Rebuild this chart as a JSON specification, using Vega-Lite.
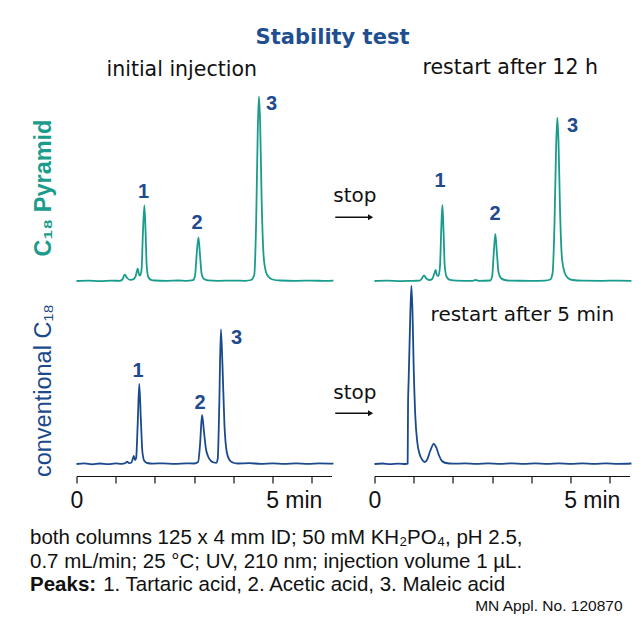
{
  "$schema": "https://vega.github.io/schema/vega-lite/v6.json",
  "background": "white",
  "padding": {"left": 29.5, "top": 26, "right": 5, "bottom": 2},
  "config": {"view": {"stroke": null}, "axis": {"grid": false}},
  "title": {"text": "Stability test", "anchor": "middle", "font": "DejaVu Sans", "fontSize": 21, "fontWeight": "bold", "color": "#1f4f90", "offset": -6.5, "baseline": "alphabetic"},
  "datasets": {
    "traces": [
      {"panel":"TL","t":0,"signal":0},{"panel":"TL","t":0.3,"signal":0.4},{"panel":"TL","t":0.6,"signal":-0.2},{"panel":"TL","t":0.9,"signal":0.3},{"panel":"TL","t":1.1,"signal":0.2},{"panel":"TL","t":1.17,"signal":1.5},{"panel":"TL","t":1.23,"signal":6.3},{"panel":"TL","t":1.29,"signal":3},{"panel":"TL","t":1.36,"signal":1.2},{"panel":"TL","t":1.42,"signal":1.3},{"panel":"TL","t":1.5,"signal":4},{"panel":"TL","t":1.54,"signal":10},{"panel":"TL","t":1.56,"signal":12.3},{"panel":"TL","t":1.59,"signal":7},{"panel":"TL","t":1.62,"signal":5.3},{"panel":"TL","t":1.66,"signal":12},{"panel":"TL","t":1.69,"signal":45},{"panel":"TL","t":1.73,"signal":75.7},{"panel":"TL","t":1.76,"signal":50},{"panel":"TL","t":1.79,"signal":15},{"panel":"TL","t":1.83,"signal":4},{"panel":"TL","t":1.9,"signal":1.2},{"panel":"TL","t":2.0,"signal":0.5},{"panel":"TL","t":2.3,"signal":0.2},{"panel":"TL","t":2.6,"signal":0.5},{"panel":"TL","t":2.8,"signal":0.1},{"panel":"TL","t":2.97,"signal":0.8},{"panel":"TL","t":3.02,"signal":5},{"panel":"TL","t":3.07,"signal":30},{"panel":"TL","t":3.11,"signal":43.7},{"panel":"TL","t":3.15,"signal":25},{"panel":"TL","t":3.19,"signal":7},{"panel":"TL","t":3.25,"signal":2},{"panel":"TL","t":3.35,"signal":0.6},{"panel":"TL","t":3.6,"signal":0.2},{"panel":"TL","t":4.0,"signal":0.4},{"panel":"TL","t":4.3,"signal":0.2},{"panel":"TL","t":4.45,"signal":1},{"panel":"TL","t":4.53,"signal":6},{"panel":"TL","t":4.58,"signal":60},{"panel":"TL","t":4.62,"signal":150},{"panel":"TL","t":4.65,"signal":184.7},{"panel":"TL","t":4.68,"signal":160},{"panel":"TL","t":4.72,"signal":80},{"panel":"TL","t":4.77,"signal":25},{"panel":"TL","t":4.83,"signal":9},{"panel":"TL","t":4.9,"signal":4},{"panel":"TL","t":5.0,"signal":1.5},{"panel":"TL","t":5.2,"signal":0.5},{"panel":"TL","t":5.6,"signal":0.2},{"panel":"TL","t":6.0,"signal":0.4},{"panel":"TL","t":6.3,"signal":0.1},{"panel":"TL","t":6.55,"signal":0.3},
      {"panel":"TR","t":0,"signal":0},{"panel":"TR","t":0.3,"signal":0.3},{"panel":"TR","t":0.7,"signal":-0.1},{"panel":"TR","t":1.0,"signal":0.2},{"panel":"TR","t":1.15,"signal":0.3},{"panel":"TR","t":1.2,"signal":2},{"panel":"TR","t":1.26,"signal":5.7},{"panel":"TR","t":1.32,"signal":2.5},{"panel":"TR","t":1.4,"signal":1},{"panel":"TR","t":1.47,"signal":2},{"panel":"TR","t":1.53,"signal":8},{"panel":"TR","t":1.56,"signal":11},{"panel":"TR","t":1.59,"signal":6},{"panel":"TR","t":1.63,"signal":5},{"panel":"TR","t":1.67,"signal":15},{"panel":"TR","t":1.7,"signal":50},{"panel":"TR","t":1.73,"signal":76},{"panel":"TR","t":1.76,"signal":50},{"panel":"TR","t":1.79,"signal":15},{"panel":"TR","t":1.84,"signal":4},{"panel":"TR","t":1.92,"signal":1.2},{"panel":"TR","t":2.1,"signal":0.4},{"panel":"TR","t":2.5,"signal":0.2},{"panel":"TR","t":2.58,"signal":1},{"panel":"TR","t":2.65,"signal":0.2},{"panel":"TR","t":2.95,"signal":0.5},{"panel":"TR","t":3.0,"signal":5},{"panel":"TR","t":3.04,"signal":28},{"panel":"TR","t":3.08,"signal":47},{"panel":"TR","t":3.12,"signal":28},{"panel":"TR","t":3.16,"signal":9},{"panel":"TR","t":3.22,"signal":3},{"panel":"TR","t":3.32,"signal":1},{"panel":"TR","t":3.5,"signal":0.3},{"panel":"TR","t":4.0,"signal":0.2},{"panel":"TR","t":4.35,"signal":0.4},{"panel":"TR","t":4.48,"signal":1.5},{"panel":"TR","t":4.54,"signal":8},{"panel":"TR","t":4.59,"signal":60},{"panel":"TR","t":4.63,"signal":135},{"panel":"TR","t":4.66,"signal":163.3},{"panel":"TR","t":4.69,"signal":140},{"panel":"TR","t":4.73,"signal":70},{"panel":"TR","t":4.78,"signal":22},{"panel":"TR","t":4.85,"signal":8},{"panel":"TR","t":4.93,"signal":3},{"panel":"TR","t":5.05,"signal":1},{"panel":"TR","t":5.3,"signal":0.3},{"panel":"TR","t":5.8,"signal":0.2},{"panel":"TR","t":6.2,"signal":0.4},{"panel":"TR","t":6.55,"signal":0.2},
      {"panel":"BL","t":0,"signal":0},{"panel":"BL","t":0.2,"signal":0.6},{"panel":"BL","t":0.4,"signal":-0.3},{"panel":"BL","t":0.6,"signal":0.5},{"panel":"BL","t":0.8,"signal":-0.2},{"panel":"BL","t":1.0,"signal":0.6},{"panel":"BL","t":1.15,"signal":0.2},{"panel":"BL","t":1.25,"signal":1},{"panel":"BL","t":1.29,"signal":2.3},{"panel":"BL","t":1.34,"signal":0.8},{"panel":"BL","t":1.4,"signal":1.5},{"panel":"BL","t":1.44,"signal":6},{"panel":"BL","t":1.46,"signal":8},{"panel":"BL","t":1.49,"signal":4},{"panel":"BL","t":1.52,"signal":6},{"panel":"BL","t":1.56,"signal":40},{"panel":"BL","t":1.6,"signal":80},{"panel":"BL","t":1.64,"signal":45},{"panel":"BL","t":1.68,"signal":12},{"panel":"BL","t":1.73,"signal":3},{"panel":"BL","t":1.8,"signal":1},{"panel":"BL","t":1.95,"signal":0.4},{"panel":"BL","t":2.2,"signal":0.7},{"panel":"BL","t":2.5,"signal":0.2},{"panel":"BL","t":2.8,"signal":0.6},{"panel":"BL","t":3.0,"signal":0.5},{"panel":"BL","t":3.1,"signal":2},{"panel":"BL","t":3.15,"signal":20},{"panel":"BL","t":3.2,"signal":49},{"panel":"BL","t":3.25,"signal":32},{"panel":"BL","t":3.3,"signal":15},{"panel":"BL","t":3.36,"signal":7},{"panel":"BL","t":3.43,"signal":3},{"panel":"BL","t":3.5,"signal":1.5},{"panel":"BL","t":3.56,"signal":1.2},{"panel":"BL","t":3.6,"signal":5},{"panel":"BL","t":3.64,"signal":60},{"panel":"BL","t":3.68,"signal":134.7},{"panel":"BL","t":3.72,"signal":100},{"panel":"BL","t":3.77,"signal":40},{"panel":"BL","t":3.83,"signal":12},{"panel":"BL","t":3.9,"signal":4},{"panel":"BL","t":3.98,"signal":1.5},{"panel":"BL","t":4.1,"signal":0.5},{"panel":"BL","t":4.4,"signal":0.8},{"panel":"BL","t":4.7,"signal":0.2},{"panel":"BL","t":5.0,"signal":0.7},{"panel":"BL","t":5.3,"signal":0.1},{"panel":"BL","t":5.6,"signal":0.6},{"panel":"BL","t":5.9,"signal":0.2},{"panel":"BL","t":6.2,"signal":0.6},{"panel":"BL","t":6.55,"signal":0.3},
      {"panel":"BR","t":0,"signal":0},{"panel":"BR","t":0.2,"signal":0.5},{"panel":"BR","t":0.4,"signal":-0.2},{"panel":"BR","t":0.6,"signal":0.4},{"panel":"BR","t":0.8,"signal":0},{"panel":"BR","t":0.845,"signal":0.3},{"panel":"BR","t":0.855,"signal":60},{"panel":"BR","t":0.87,"signal":83.3},{"panel":"BR","t":0.9,"signal":130},{"panel":"BR","t":0.94,"signal":178.3},{"panel":"BR","t":0.97,"signal":150},{"panel":"BR","t":1.0,"signal":95},{"panel":"BR","t":1.04,"signal":48},{"panel":"BR","t":1.09,"signal":22},{"panel":"BR","t":1.15,"signal":10},{"panel":"BR","t":1.22,"signal":4},{"panel":"BR","t":1.28,"signal":2},{"panel":"BR","t":1.35,"signal":5},{"panel":"BR","t":1.42,"signal":13},{"panel":"BR","t":1.51,"signal":20},{"panel":"BR","t":1.58,"signal":16},{"panel":"BR","t":1.65,"signal":8},{"panel":"BR","t":1.72,"signal":3},{"panel":"BR","t":1.82,"signal":1},{"panel":"BR","t":2.0,"signal":0.3},{"panel":"BR","t":2.3,"signal":0.6},{"panel":"BR","t":2.6,"signal":0.1},{"panel":"BR","t":2.9,"signal":0.6},{"panel":"BR","t":3.2,"signal":0.2},{"panel":"BR","t":3.5,"signal":0.7},{"panel":"BR","t":3.8,"signal":0.1},{"panel":"BR","t":4.1,"signal":0.6},{"panel":"BR","t":4.4,"signal":0.2},{"panel":"BR","t":4.7,"signal":0.7},{"panel":"BR","t":5.0,"signal":0.2},{"panel":"BR","t":5.3,"signal":0.6},{"panel":"BR","t":5.6,"signal":0.2},{"panel":"BR","t":5.9,"signal":0.6},{"panel":"BR","t":6.2,"signal":0.2},{"panel":"BR","t":6.55,"signal":0.5}
    ],
    "peaks": [
      {"panel":"TL","label":"1","t":1.71,"signal":89.5},{"panel":"TL","label":"2","t":3.07,"signal":58.5},{"panel":"TL","label":"3","t":4.97,"signal":177},
      {"panel":"TR","label":"1","t":1.67,"signal":100.5},{"panel":"TR","label":"2","t":3.07,"signal":67},{"panel":"TR","label":"3","t":5.05,"signal":155.5},
      {"panel":"BL","label":"1","t":1.57,"signal":93.5},{"panel":"BL","label":"2","t":3.15,"signal":61.5},{"panel":"BL","label":"3","t":4.08,"signal":126}
    ],
    "notes": [
      {"panel":"TR","text":"stop","t":-1.05,"signal":79.5},
      {"panel":"BR","text":"stop","t":-1.05,"signal":65.5},
      {"panel":"BR","text":"restart after 5 min","t":1.43,"signal":143.5}
    ],
    "arrows": [
      {"panel":"TR","t":-1.0,"t2":-0.1,"signal":63.7},
      {"panel":"BR","t":-1.0,"t2":-0.1,"signal":50.7}
    ],
    "footer": [
      {"part":"body","line":1,"text":"both columns 125 x 4 mm ID; 50 mM KH₂PO₄, pH 2.5,"},
      {"part":"body","line":2,"text":"0.7 mL/min; 25 °C; UV, 210 nm; injection volume 1 µL."},
      {"part":"head","line":3,"text":"Peaks:"},
      {"part":"tail","line":3,"text":"1. Tartaric acid, 2. Acetic acid, 3. Maleic acid"},
      {"part":"credit","line":4,"text":"MN Appl. No. 120870"}
    ]
  },
  "vconcat": [
    {
      "columns": 2,
      "bounds": "flush",
      "spacing": {"row": 0, "column": 43},
      "concat": [
        {
          "width": 255, "height": 183,
          "title": {"text": "initial injection", "anchor": "start", "frame": "group", "dx": 30, "offset": -4, "baseline": "alphabetic", "font": "DejaVu Sans", "fontSize": 20.5, "fontWeight": "normal", "color": "#111111"},
          "layer": [
            {
              "data": {"name": "traces"},
              "transform": [{"filter": "datum.panel == 'TL'"}],
              "mark": {"type": "line", "color": "#1a9c8c", "strokeWidth": 1.8, "interpolate": "monotone"},
              "encoding": {
                "x": {"field": "t", "type": "quantitative", "scale": {"domain": [0, 6.5], "nice": false}, "axis": null},
                "y": {"field": "signal", "type": "quantitative", "scale": {"domain": [-12, 171], "nice": false, "zero": false},
                      "axis": {"title": "C₁₈ Pyramid", "titleColor": "#1a9c8c", "titleFont": "Liberation Sans", "titleFontSize": 23.5, "titleFontWeight": "bold", "titlePadding": 21, "titleY": 77.5, "domain": false, "ticks": false, "labels": false}}
              }
            },
            {
              "data": {"name": "peaks"},
              "transform": [{"filter": "datum.panel == 'TL'"}],
              "mark": {"type": "text", "font": "Liberation Sans", "fontSize": 20, "fontWeight": "bold", "color": "#1e4a8e", "baseline": "middle", "align": "center"},
              "encoding": {"x": {"field": "t", "type": "quantitative"}, "y": {"field": "signal", "type": "quantitative"}, "text": {"field": "label"}}
            }
          ]
        },
        {
          "width": 255, "height": 183,
          "title": {"text": "restart after 12 h", "anchor": "start", "frame": "group", "dx": 48, "offset": 15.5, "baseline": "alphabetic", "font": "DejaVu Sans", "fontSize": 20.5, "fontWeight": "normal", "color": "#111111"},
          "layer": [
            {
              "data": {"name": "traces"},
              "transform": [{"filter": "datum.panel == 'TR'"}],
              "mark": {"type": "line", "color": "#1a9c8c", "strokeWidth": 1.8, "interpolate": "monotone"},
              "encoding": {
                "x": {"field": "t", "type": "quantitative", "scale": {"domain": [0, 6.5], "nice": false}, "axis": null},
                "y": {"field": "signal", "type": "quantitative", "scale": {"domain": [-12, 171], "nice": false, "zero": false}, "axis": null}
              }
            },
            {
              "data": {"name": "peaks"},
              "transform": [{"filter": "datum.panel == 'TR'"}],
              "mark": {"type": "text", "font": "Liberation Sans", "fontSize": 20, "fontWeight": "bold", "color": "#1e4a8e", "baseline": "middle", "align": "center"},
              "encoding": {"x": {"field": "t", "type": "quantitative"}, "y": {"field": "signal", "type": "quantitative"}, "text": {"field": "label"}}
            },
            {
              "data": {"name": "notes"},
              "transform": [{"filter": "datum.panel == 'TR'"}],
              "mark": {"type": "text", "font": "DejaVu Sans", "fontSize": 20, "color": "#111111", "baseline": "alphabetic", "align": "left"},
              "encoding": {"x": {"field": "t", "type": "quantitative"}, "y": {"field": "signal", "type": "quantitative"}, "text": {"field": "text"}}
            },
            {
              "data": {"name": "arrows"},
              "transform": [{"filter": "datum.panel == 'TR'"}],
              "mark": {"type": "rule", "color": "#111111", "strokeWidth": 1.5},
              "encoding": {"x": {"field": "t", "type": "quantitative"}, "x2": {"field": "t2"}, "y": {"field": "signal", "type": "quantitative"}}
            },
            {
              "data": {"name": "arrows"},
              "transform": [{"filter": "datum.panel == 'TR'"}],
              "mark": {"type": "point", "shape": "triangle-right", "filled": true, "size": 35, "color": "#111111", "opacity": 1},
              "encoding": {"x": {"field": "t2", "type": "quantitative"}, "y": {"field": "signal", "type": "quantitative"}}
            }
          ]
        },
        {
          "width": 255, "height": 183,
          "layer": [
            {
              "data": {"name": "traces"},
              "transform": [{"filter": "datum.panel == 'BL'"}],
              "mark": {"type": "line", "color": "#1b4a8c", "strokeWidth": 1.8, "interpolate": "monotone"},
              "encoding": {
                "x": {"field": "t", "type": "quantitative", "scale": {"domain": [0, 6.5], "nice": false},
                      "axis": {"title": null, "values": [0,1,2,3,4,5,6], "labelExpr": "datum.value == 0 ? '0' : datum.value == 5 ? '5 min' : ''", "tickSize": 7, "tickColor": "#111111", "tickWidth": 1.2, "domainColor": "#111111", "domainWidth": 1.2, "labelFont": "Liberation Sans", "labelFontSize": 23, "labelColor": "#111111", "labelPadding": 6, "labelFlush": false, "labelOverlap": false,
                               "labelAlign": {"condition": {"test": "datum.value == 5", "value": "left"}, "value": "center"},
                               "labelOffset": {"condition": {"test": "datum.value == 5", "value": -7}, "value": 0}}},
                "y": {"field": "signal", "type": "quantitative", "scale": {"domain": [-12, 171], "nice": false, "zero": false},
                      "axis": {"title": "conventional C₁₈", "titleColor": "#1b4a8c", "titleFont": "Liberation Sans", "titleFontSize": 23.5, "titleFontWeight": "normal", "titlePadding": 21, "titleY": 97, "domain": false, "ticks": false, "labels": false}}
              }
            },
            {
              "data": {"name": "peaks"},
              "transform": [{"filter": "datum.panel == 'BL'"}],
              "mark": {"type": "text", "font": "Liberation Sans", "fontSize": 20, "fontWeight": "bold", "color": "#1e4a8e", "baseline": "middle", "align": "center"},
              "encoding": {"x": {"field": "t", "type": "quantitative"}, "y": {"field": "signal", "type": "quantitative"}, "text": {"field": "label"}}
            }
          ]
        },
        {
          "width": 255, "height": 183,
          "layer": [
            {
              "data": {"name": "traces"},
              "transform": [{"filter": "datum.panel == 'BR'"}],
              "mark": {"type": "line", "color": "#1b4a8c", "strokeWidth": 1.8, "interpolate": "monotone"},
              "encoding": {
                "x": {"field": "t", "type": "quantitative", "scale": {"domain": [0, 6.5], "nice": false},
                      "axis": {"title": null, "values": [0,1,2,3,4,5,6], "labelExpr": "datum.value == 0 ? '0' : datum.value == 5 ? '5 min' : ''", "tickSize": 7, "tickColor": "#111111", "tickWidth": 1.2, "domainColor": "#111111", "domainWidth": 1.2, "labelFont": "Liberation Sans", "labelFontSize": 23, "labelColor": "#111111", "labelPadding": 6, "labelFlush": false, "labelOverlap": false,
                               "labelAlign": {"condition": {"test": "datum.value == 5", "value": "left"}, "value": "center"},
                               "labelOffset": {"condition": {"test": "datum.value == 5", "value": -7}, "value": 0}}},
                "y": {"field": "signal", "type": "quantitative", "scale": {"domain": [-12, 171], "nice": false, "zero": false}, "axis": null}
              }
            },
            {
              "data": {"name": "notes"},
              "transform": [{"filter": "datum.panel == 'BR'"}],
              "mark": {"type": "text", "font": "DejaVu Sans", "fontSize": 20, "color": "#111111", "baseline": "alphabetic", "align": "left"},
              "encoding": {"x": {"field": "t", "type": "quantitative"}, "y": {"field": "signal", "type": "quantitative"}, "text": {"field": "text"}}
            },
            {
              "data": {"name": "arrows"},
              "transform": [{"filter": "datum.panel == 'BR'"}],
              "mark": {"type": "rule", "color": "#111111", "strokeWidth": 1.5},
              "encoding": {"x": {"field": "t", "type": "quantitative"}, "x2": {"field": "t2"}, "y": {"field": "signal", "type": "quantitative"}}
            },
            {
              "data": {"name": "arrows"},
              "transform": [{"filter": "datum.panel == 'BR'"}],
              "mark": {"type": "point", "shape": "triangle-right", "filled": true, "size": 35, "color": "#111111", "opacity": 1},
              "encoding": {"x": {"field": "t2", "type": "quantitative"}, "y": {"field": "signal", "type": "quantitative"}}
            }
          ]
        }
      ]
    },
    {
      "width": 553, "height": 71,
      "data": {"name": "footer"},
      "encoding": {
        "x": {"datum": 0, "type": "quantitative", "scale": {"domain": [0, 1], "nice": false}, "axis": null},
        "y": {"field": "line", "type": "quantitative", "scale": {"domain": [1, 4], "reverse": true, "nice": false, "zero": false}, "axis": null},
        "text": {"field": "text"}
      },
      "layer": [
        {"transform": [{"filter": "datum.part == 'body'"}], "mark": {"type": "text", "align": "left", "baseline": "alphabetic", "font": "Liberation Sans", "fontSize": 20.5, "dx": -46.5, "color": "#111111"}},
        {"transform": [{"filter": "datum.part == 'head'"}], "mark": {"type": "text", "align": "left", "baseline": "alphabetic", "font": "Liberation Sans", "fontSize": 20.5, "fontWeight": "bold", "dx": -46.5, "color": "#111111"}},
        {"transform": [{"filter": "datum.part == 'tail'"}], "mark": {"type": "text", "align": "left", "baseline": "alphabetic", "font": "Liberation Sans", "fontSize": 20.5, "dx": 26.7, "color": "#111111"}},
        {"transform": [{"filter": "datum.part == 'credit'"}], "mark": {"type": "text", "align": "right", "baseline": "alphabetic", "font": "Liberation Sans", "fontSize": 15.5, "dx": -7, "dy": -4, "color": "#111111"},
         "encoding": {"x": {"datum": 1, "type": "quantitative"}}}
      ]
    }
  ],
  "spacing": 16
}
